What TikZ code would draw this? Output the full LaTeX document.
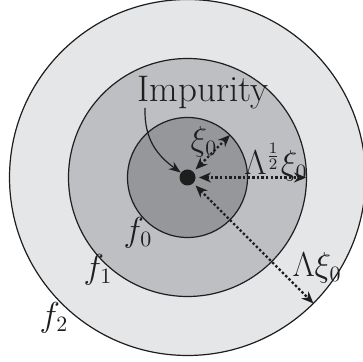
\documentclass[tikz,border=0pt]{standalone}
\usetikzlibrary{arrows.meta}
\definecolor{ringout}{RGB}{229,230,232}
\definecolor{ringmid}{RGB}{190,191,194}
\definecolor{ringin}{RGB}{150,151,154}
\definecolor{ink}{RGB}{30,30,30}
\begin{document}
\begin{tikzpicture}[x=0.5pt,y=0.5pt,
  lbl/.style={inner sep=0pt,text=ink,font=\fontsize{16}{19}\selectfont},
  biglbl/.style={inner sep=0pt,text=ink,font=\fontsize{18.5}{22}\selectfont},
  ring/.style={draw=ink,line width=0.6pt},
  dotarrow/.style={ink,line width=1.2pt,dash pattern=on 1.2pt off 1.1pt,
    {Stealth[length=6pt,width=5pt]}-{Stealth[length=6pt,width=5pt]},shorten <=1.5pt},
  thinarrow/.style={ink,line width=0.6pt,-{Stealth[length=6pt,width=4.5pt]}}]
\useasboundingbox (0,0) rectangle (363,362);
\clip (0,0) rectangle (363,362);
\fill[white] (0,0) rectangle (363,362);
\coordinate (c) at (187.5,184.5);
\draw[ring,fill=ringout] (c) circle[radius=178];
\draw[ring,fill=ringmid] (c) circle[radius=119];
\draw[ring,fill=ringin] (c) circle[radius=60];
\node[circle,fill=ink,minimum size=8pt,inner sep=0pt] (dot) at (c) {};
\coordinate (axi) at (230,227);
\coordinate (ahalf) at (306,184.5);
\coordinate (alam) at (313.4,58.6);
\draw[dotarrow] (dot) -- (axi);
\draw[dotarrow] (dot) -- (ahalf);
\draw[dotarrow] (dot) -- (alam);
\node[biglbl,anchor=base] (imp) at (203,260) {Impurity};
\coordinate (imps) at (145,254);
\draw[thinarrow] (imps) .. controls (144,222) and (158,206) .. (dot);
\node[lbl] (xi) at (204,220) {$\xi_0$};
\node[lbl] (half) at (276,200) {$\Lambda^{\frac12}\xi_0$};
\node[lbl] (lam) at (317,94) {$\Lambda\xi_0$};
\node[lbl] (f0) at (138,129) {$f_0$};
\node[lbl] (f1) at (98,92) {$f_1$};
\node[lbl] (f2) at (54,44) {$f_2$};
\end{tikzpicture}
\end{document}
